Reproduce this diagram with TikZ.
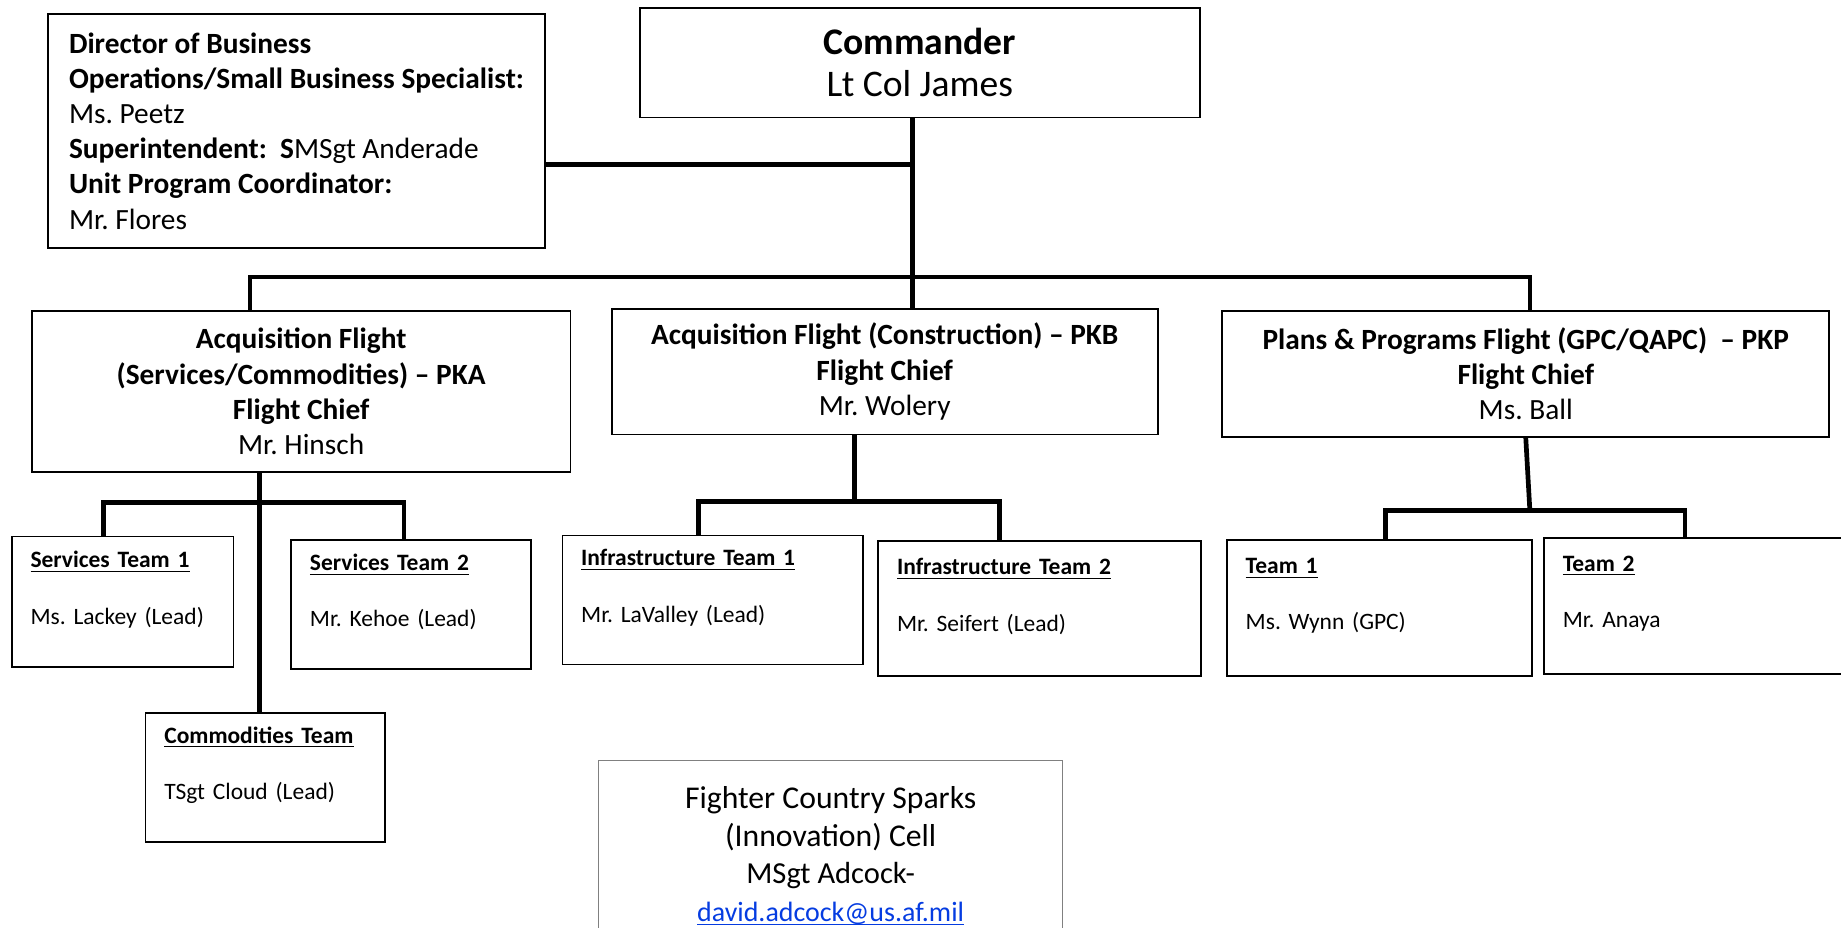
\documentclass[tikz,border=0pt]{standalone}
\usepackage{fontspec}
\setmainfont{Carlito}
\frenchspacing
\definecolor{linkblue}{RGB}{5,60,225}
\tikzset{
  box/.style={draw, line width=0.7pt, inner sep=0pt},
  flight/.style={box, align=center, font=\fontsize{12.5}{15}\selectfont},
  team/.style={box, align=left, inner xsep=8pt, font=\fontsize{10}{12}\selectfont},
  link/.style={line width=2pt},
}
\newcommand{\teamtext}[2]{\underline{\textbf{#1}}\\[12pt]#2\\\mbox{}}
\begin{document}
\begin{tikzpicture}[x=0.5pt, y=-0.5pt]
\useasboundingbox (0,0) rectangle (1568,790);
% top level
\node[box, align=center, font=\fontsize{16}{18}\selectfont, minimum width=238.5pt, minimum height=46.5pt] (cmd) at (783.5,53.5)
	{\textbf{Commander}\\Lt Col James};
\node[box, align=left, font=\fontsize{12.5}{15}\selectfont, minimum width=211.5pt, minimum height=99.5pt] (dir) at (252.5,111.5)
	{\textbf{Director of Business}\\
	 \textbf{Operations/Small Business Specialist:}\\
	 Ms. Peetz\\
	 \textbf{Superintendent:~ S}MSgt Anderade\\
	 \textbf{Unit Program Coordinator:}\\
	 Mr. Flores};
% flights
\node[flight, minimum width=229.5pt, minimum height=68.5pt] (pka) at (256.5,333.5)
	{\textbf{Acquisition Flight}\\\textbf{(Services/Commodities) – PKA}\\\textbf{Flight Chief}\\Mr. Hinsch};
\node[flight, minimum width=232.5pt, minimum height=53.5pt] (pkb) at (753.5,316.5)
	{\textbf{Acquisition Flight (Construction) – PKB}\\\textbf{Flight Chief}\\Mr. Wolery};
\node[flight, minimum width=258.5pt, minimum height=53.5pt] (pkp) at (1299.5,318.5)
	{\textbf{Plans \& Programs Flight (GPC/QAPC)~ – PKP}\\\textbf{Flight Chief}\\Ms. Ball};
% teams
\foreach \n/\cx/\cy/\tw/\h/\ti/\le in {
	st1/104.5/512.5/78.5/55.5/Services Team 1/Ms. Lackey (Lead),
	st2/350/515/86/55/Services Team 2/Mr. Kehoe (Lead),
	ct/226/662/86/55/Commodities Team/TSgt Cloud (Lead),
	it1/607/511/112/55/Infrastructure Team 1/Mr. LaValley (Lead),
	it2/885.5/518.5/121.5/57.5/Infrastructure Team 2/Mr. Seifert (Lead),
	t1/1175/518/114/58/Team 1/Ms. Wynn (GPC),
	t2/1445/516/114/58/Team 2/Mr. Anaya}
{\node[team, text width=\tw pt, minimum height=\h pt] (\n) at (\cx,\cy) {\teamtext{\ti}{\le}};
}
\node[draw=gray, line width=0.4pt, align=center, font=\fontsize{13.5}{16}\selectfont, minimum width=197.5pt, minimum height=82pt] (fcs) at (707.5,729.5)
	{Fighter Country Sparks\\(Innovation) Cell\\\fontsize{13}{16}\selectfont MSgt Adcock-\\\fontsize{11.9}{16}\selectfont\textcolor{linkblue}{\underline{\smash{david.adcock@us.af.mil}}}};
% connectors
\coordinate (trunk) at (777,236);
\coordinate (jdir) at (777,140);
\coordinate (barL) at (213,236);
\coordinate (barR) at (1303,236);
\draw[link] (cmd.south -| trunk) -- (pkb.north -| trunk);
\draw[link] (dir.east |- jdir) -- (jdir);
\draw[link] (pka.north -| barL) -- (barL) -- (barR) -- (pkp.north -| barR);
\coordinate (pkaj) at (221,428);
\coordinate (sa) at (88,428);
\coordinate (sb) at (344,428);
\draw[link] (pka.south -| pkaj) -- (ct.north -| pkaj);
\draw[link] (st1.north -| sa) -- (sa) -- (sb) -- (st2.north -| sb);
\coordinate (pkbj) at (728,427);
\coordinate (ia) at (595,427);
\coordinate (ib) at (851,427);
\draw[link] (pkb.south -| pkbj) -- (pkbj);
\draw[link] (it1.north -| ia) -- (ia) -- (ib) -- (it2.north -| ib);
\coordinate (pkpj) at (1303,435);
\coordinate (ta) at (1180,435);
\coordinate (tb) at (1435,435);
\draw[link] (pkp.south) -- (pkpj);
\draw[link] (t1.north -| ta) -- (ta) -- (tb) -- (t2.north -| tb);
\end{tikzpicture}
\end{document}
